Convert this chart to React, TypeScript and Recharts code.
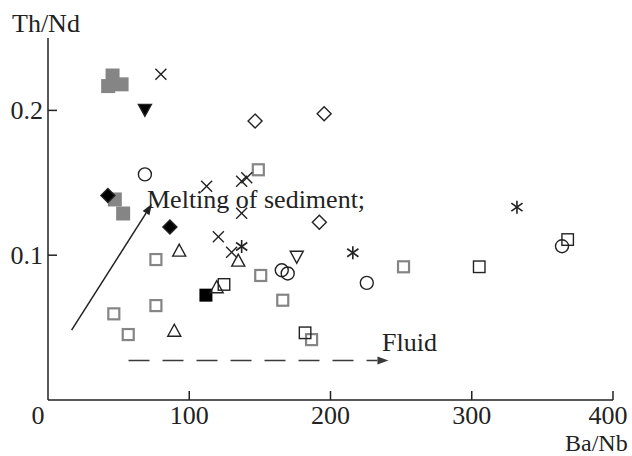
import { ScatterChart, Scatter, XAxis, YAxis, ReferenceLine } from "recharts";

// Ba/Nb (x) vs Th/Nd (y), one array per marker type
const grayFilledSquares = [
  { x: 45.7, y: 0.2241 },
  { x: 42.6, y: 0.2168 },
  { x: 52.1, y: 0.218 },
  { x: 47.3, y: 0.1385 },
  { x: 53.2, y: 0.1288 },
];
const grayOpenSquares = [
  { x: 148.9, y: 0.159 },
  { x: 76.4, y: 0.097 },
  { x: 150.6, y: 0.086 },
  { x: 166.2, y: 0.0689 },
  { x: 76.4, y: 0.0652 },
  { x: 46.6, y: 0.0595 },
  { x: 56.8, y: 0.0452 },
  { x: 186.6, y: 0.0417 },
  { x: 251.7, y: 0.092 },
];
const blackOpenSquares = [
  { x: 124.6, y: 0.0798 },
  { x: 182, y: 0.0464 },
  { x: 305.3, y: 0.092 },
  { x: 367.9, y: 0.1108 },
];
const blackFilledSquares = [{ x: 111.8, y: 0.0724 }];
const blackDiamonds = [
  { x: 42.4, y: 0.1413 },
  { x: 86.3, y: 0.1194 },
];
const openDiamonds = [
  { x: 146.6, y: 0.1926 },
  { x: 195.5, y: 0.1977 },
  { x: 192.1, y: 0.1228 },
];
const blackInvTriangles = [{ x: 68.6, y: 0.2007 }];
const openInvTriangles = [{ x: 176.1, y: 0.0993 }];
const openTriangles = [
  { x: 92.9, y: 0.1028 },
  { x: 134.7, y: 0.0959 },
  { x: 119.4, y: 0.0775 },
  { x: 89.4, y: 0.0475 },
];
const crosses = [
  { x: 79.9, y: 0.2249 },
  { x: 112.3, y: 0.1477 },
  { x: 137.1, y: 0.151 },
  { x: 140.7, y: 0.1535 },
  { x: 137.1, y: 0.129 },
  { x: 120.6, y: 0.1127 },
  { x: 130, y: 0.102 },
];
const asterisks = [
  { x: 137.1, y: 0.106 },
  { x: 215.8, y: 0.1017 },
  { x: 332, y: 0.1332 },
];
const circles = [
  { x: 68.6, y: 0.1558 },
  { x: 165.5, y: 0.0896 },
  { x: 169.7, y: 0.0874 },
  { x: 225.7, y: 0.0809 },
  { x: 363.9, y: 0.1062 },
];

const meltingArrow = [
  { x: 16.7, y: 0.0482 },
  { x: 73.6, y: 0.1355 },
];
const fluidArrow = [
  { x: 57, y: 0.0272 },
  { x: 241, y: 0.0272 },
];

const xTicks = [0, 100, 200, 300, 400];
const yTicks = [0.1, 0.2];

const INK = "#222";
const GRAY = "#858585";
const FONT = "'Liberation Serif', 'Times New Roman', serif";
const FS = 26;

const sq = (s: number, fill: string, stroke: string, sw: number) => (p: any) => (
  <rect x={p.cx - s / 2} y={p.cy - s / 2} width={s} height={s} fill={fill} stroke={stroke} strokeWidth={sw} />
);
const circle = (p: any) => (
  <circle cx={p.cx} cy={p.cy} r={6.5} fill="none" stroke={INK} strokeWidth={1.4} />
);
const tri = (p: any) => (
  <polygon
    points={`${p.cx},${p.cy - 7} ${p.cx - 6.5},${p.cy + 5} ${p.cx + 6.5},${p.cy + 5}`}
    fill="none"
    stroke={INK}
    strokeWidth={1.4}
  />
);
const invTri = (fill: string) => (p: any) => (
  <polygon
    points={`${p.cx - 6.5},${p.cy - 5} ${p.cx + 6.5},${p.cy - 5} ${p.cx},${p.cy + 7}`}
    fill={fill}
    stroke={INK}
    strokeWidth={1.4}
  />
);
const diamond = (fill: string) => (p: any) => (
  <polygon
    points={`${p.cx},${p.cy - 7} ${p.cx + 7},${p.cy} ${p.cx},${p.cy + 7} ${p.cx - 7},${p.cy}`}
    fill={fill}
    stroke={INK}
    strokeWidth={1.4}
  />
);
const cross = (p: any) => (
  <g stroke={INK} strokeWidth={1.4}>
    <line x1={p.cx - 5.5} y1={p.cy - 5.5} x2={p.cx + 5.5} y2={p.cy + 5.5} />
    <line x1={p.cx - 5.5} y1={p.cy + 5.5} x2={p.cx + 5.5} y2={p.cy - 5.5} />
  </g>
);
const asterisk = (p: any) => (
  <g stroke={INK} strokeWidth={1.6}>
    <line x1={p.cx} y1={p.cy - 6.5} x2={p.cx} y2={p.cy + 6.5} />
    <line x1={p.cx - 5.6} y1={p.cy - 4} x2={p.cx + 5.6} y2={p.cy + 4} />
    <line x1={p.cx - 5.6} y1={p.cy + 4} x2={p.cx + 5.6} y2={p.cy - 4} />
  </g>
);

const XTick = (p: any) => {
  const v = p.payload.value;
  const dx = v === 0 ? -10 : v === 400 ? -5 : 0;
  return (
    <g>
      {v !== 0 && <line x1={p.x} y1={p.y} x2={p.x} y2={p.y - 9} stroke={INK} strokeWidth={1.5} />}
      <text x={p.x + dx} y={p.y + 24} textAnchor="middle" fontSize={FS} fontFamily={FONT} fill={INK}>
        {v}
      </text>
    </g>
  );
};

const YTick = (p: any) => (
  <g>
    <line x1={p.x} y1={p.y} x2={p.x + 9} y2={p.y} stroke={INK} strokeWidth={1.5} />
    <text x={p.x - 5} y={p.y + 8.5} textAnchor="end" fontSize={FS} fontFamily={FONT} fill={INK}>
      {p.payload.value}
    </text>
  </g>
);

const arrow = (dashed: boolean) => (p: any) => {
  const { x1, y1, x2, y2 } = p;
  const ang = Math.atan2(y2 - y1, x2 - x1);
  const L = 11;
  const W = 4;
  const bx = x2 - L * Math.cos(ang);
  const by = y2 - L * Math.sin(ang);
  const nx = -Math.sin(ang) * W;
  const ny = Math.cos(ang) * W;
  const color = dashed ? "#3a3a3a" : INK;
  return (
    <g>
      <line
        x1={x1}
        y1={y1}
        x2={bx}
        y2={by}
        stroke={color}
        strokeWidth={1.5}
        strokeDasharray={dashed ? "21 13" : undefined}
      />
      <polygon points={`${x2},${y2} ${bx + nx},${by + ny} ${bx - nx},${by - ny}`} fill={color} />
    </g>
  );
};

export default function App() {
  return (
    <div style={{ position: "fixed", left: 0, top: 0, background: "#fff" }}>
      <ScatterChart width={632} height={456} margin={{ top: 38, right: 19, bottom: 0, left: 0 }}>
        <XAxis
          type="number"
          dataKey="x"
          domain={[0, 400]}
          ticks={xTicks}
          height={56}
          tickSize={0}
          tickMargin={0}
          tickLine={false}
          tick={<XTick />}
          axisLine={{ stroke: INK, strokeWidth: 1.5 }}
        />
        <YAxis
          type="number"
          dataKey="y"
          domain={[0, 0.25]}
          ticks={yTicks}
          width={48}
          tickSize={0}
          tickMargin={0}
          tickLine={false}
          tick={<YTick />}
          axisLine={{ stroke: INK, strokeWidth: 1.5 }}
        />
        <ReferenceLine segment={meltingArrow} ifOverflow="visible" shape={arrow(false)} />
        <ReferenceLine segment={fluidArrow} ifOverflow="visible" shape={arrow(true)} />
        <Scatter data={grayOpenSquares} shape={sq(11, "none", GRAY, 2.2)} isAnimationActive={false} />
        <Scatter data={grayFilledSquares} shape={sq(14, GRAY, "none", 0)} isAnimationActive={false} />
        <Scatter data={blackOpenSquares} shape={sq(11.5, "none", INK, 1.4)} isAnimationActive={false} />
        <Scatter data={blackFilledSquares} shape={sq(13, "#000", "none", 0)} isAnimationActive={false} />
        <Scatter data={openTriangles} shape={tri} isAnimationActive={false} />
        <Scatter data={openInvTriangles} shape={invTri("none")} isAnimationActive={false} />
        <Scatter data={blackInvTriangles} shape={invTri("#000")} isAnimationActive={false} />
        <Scatter data={openDiamonds} shape={diamond("none")} isAnimationActive={false} />
        <Scatter data={blackDiamonds} shape={diamond("#000")} isAnimationActive={false} />
        <Scatter data={circles} shape={circle} isAnimationActive={false} />
        <Scatter data={crosses} shape={cross} isAnimationActive={false} />
        <Scatter data={asterisks} shape={asterisk} isAnimationActive={false} />
        <text x={12} y={32} fontSize={FS} fontFamily={FONT} fill={INK}>
          Th/Nd
        </text>
        <text x={565} y={450.5} fontSize={24} fontFamily={FONT} fill={INK}>
          Ba/Nb
        </text>
        <text x={147} y={208} fontSize={FS} fontFamily={FONT} fill={INK}>
          Melting of sediment;
        </text>
        <text x={382} y={351} fontSize={FS} fontFamily={FONT} fill={INK}>
          Fluid
        </text>
      </ScatterChart>
    </div>
  );
}
